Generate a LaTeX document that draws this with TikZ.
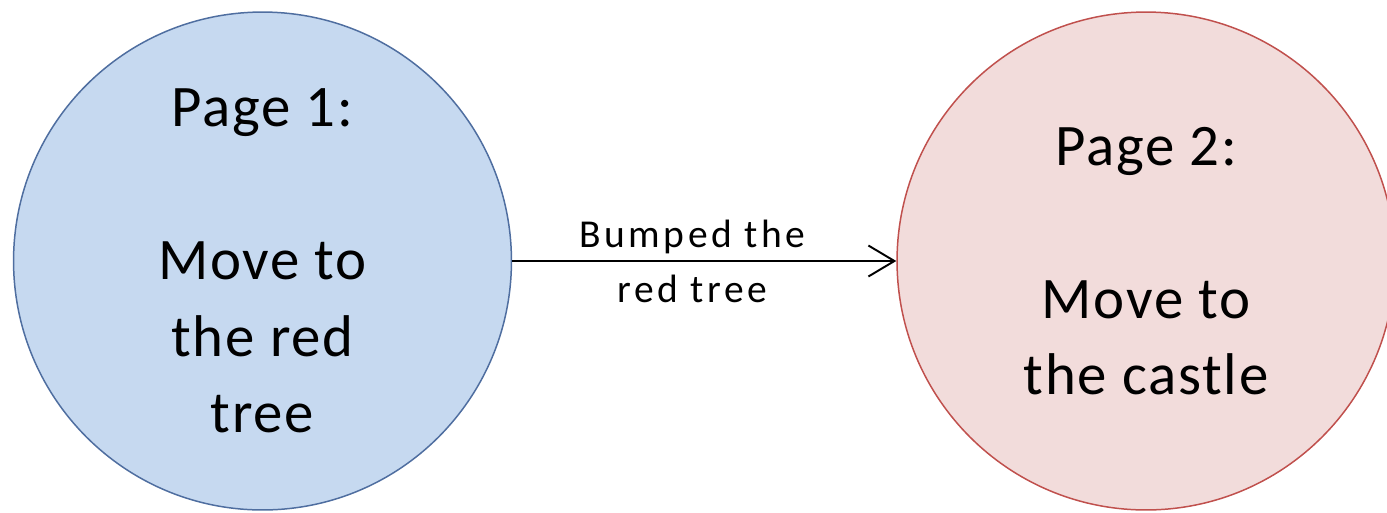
\documentclass[tikz,border=0pt]{standalone}
\usepackage{fontspec}
\setmainfont{Carlito}[LetterSpace=3]
\newfontfamily\labelfont{Carlito}[LetterSpace=9]
\definecolor{color1}{RGB}{198, 217, 240}
\definecolor{color2}{RGB}{79, 110, 160}
\definecolor{color3}{RGB}{242, 220, 219}
\definecolor{color4}{RGB}{192, 80, 77}
\usetikzlibrary{arrows.meta}

\begin{document}
\begin{tikzpicture}[x = 0.02cm, y = -0.02cm,
	page/.style = {circle, minimum size = 9.96cm, inner sep = 0pt, line width = 0.85pt, align = center, font = \fontsize{33.5pt}{43.5pt}\selectfont},
	conn/.style = {line width = 1.1pt, -{Straight Barb[length = 0.52cm, width = 0.62cm, line width = 1.1pt]}}]
	\useasboundingbox (0, 0) rectangle (1387, 512);

	\node[page, fill = color1, draw = color2] (page1) at (262.5, 261) {Page 1:\\[43.5pt]Move to\\the red\\tree};
	\node[page, fill = color3, draw = color4] (page2) at (1146, 261) {Page 2:\\[43.5pt]Move to\\the castle};

	\draw[conn] (page1) -- (page2) node[midway, xshift = -0.24cm, align = center, font = \labelfont\fontsize{22.5pt}{31.3pt}\selectfont]{Bumped the\\red tree};
\end{tikzpicture}
\end{document}
